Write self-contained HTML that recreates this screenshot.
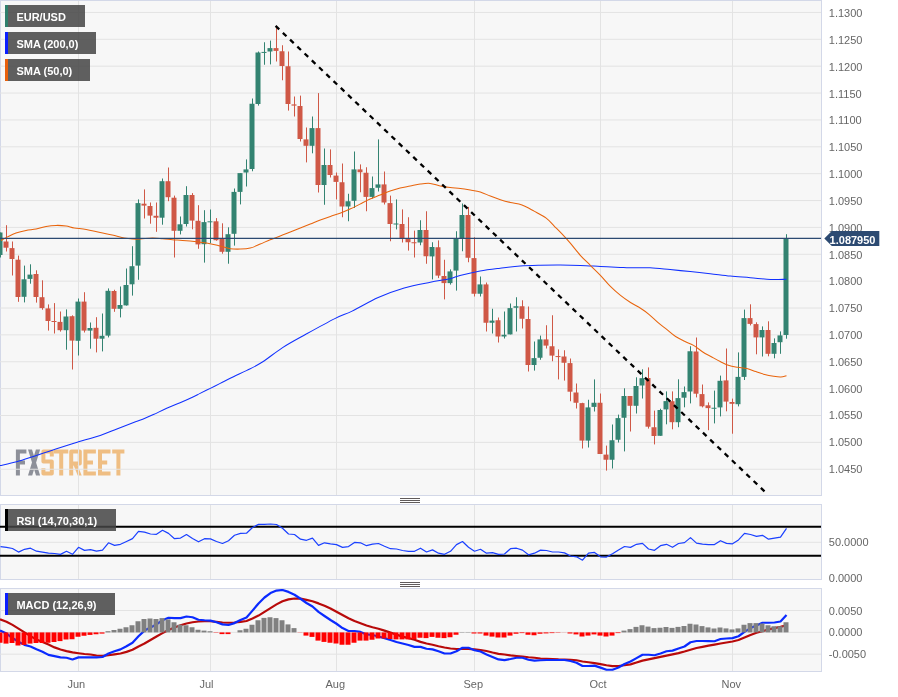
<!DOCTYPE html>
<html><head><meta charset="utf-8"><style>
html,body{margin:0;padding:0;background:#fff;width:898px;height:697px;overflow:hidden}
svg{display:block;will-change:transform}
text{font-family:"Liberation Sans",sans-serif}
</style></head><body>
<svg width="898" height="697" viewBox="0 0 898 697">
<defs>
<clipPath id="cm"><rect x="0" y="1" width="821" height="494"/></clipPath>
<clipPath id="cr"><rect x="0" y="505" width="821" height="74"/></clipPath>
<clipPath id="cd"><rect x="0" y="589" width="821" height="82"/></clipPath>
</defs>
<rect width="898" height="697" fill="#fff"/>

<rect x="0.5" y="0.5" width="821" height="495" fill="#f7f7f7" stroke="#d3d8e8" stroke-width="1"/>
<rect x="0.5" y="504.5" width="821" height="75" fill="#f7f7f7" stroke="#d3d8e8" stroke-width="1"/>
<rect x="0.5" y="588.5" width="821" height="83" fill="#f7f7f7" stroke="#d3d8e8" stroke-width="1"/>
<g clip-path="url(#cm)">
<g fill="none" stroke-width="4" stroke-linejoin="miter">
<path d="M17.9 449.4V475.4M15.9 451.4H26.4M15.9 462.4H25" stroke="#8d9099"/>
<path d="M28 449.4H32L40.1 475.4H36ZM35.9 449.4H40.1L32.2 475.4H28Z" fill="#8d9099" stroke="none"/>
<path d="M51.8 456.5V451.4H43.4V461.4H51.8V473.4H43.4V468.3" stroke="#efbe83" stroke-linejoin="round"/>
<path d="M53.9 451.4H68.3M61.2 449.4V475.4" stroke="#efbe83"/>
<path d="M71.2 475.4V451.4H79.8V463.6H71.2" stroke="#efbe83" stroke-linejoin="round"/>
<path d="M73.5 465H77.5L81.7 475.4H77.7Z" fill="#efbe83" stroke="none"/>
<path d="M95.9 451.4H85.4V473.4H95.9M85.4 462.4H93" stroke="#efbe83"/>
<path d="M110.5 451.4H100V473.4H110.5M100 462.4H107.2" stroke="#efbe83"/>
<path d="M112.2 451.4H124.4M118.4 449.4V475.4" stroke="#efbe83"/>
</g>
<line x1="0" x2="822" y1="12.45" y2="12.45" stroke="#e3e3e3" stroke-width="1"/>
<line x1="0" x2="822" y1="39.32" y2="39.32" stroke="#e3e3e3" stroke-width="1"/>
<line x1="0" x2="822" y1="66.19" y2="66.19" stroke="#e3e3e3" stroke-width="1"/>
<line x1="0" x2="822" y1="93.06" y2="93.06" stroke="#e3e3e3" stroke-width="1"/>
<line x1="0" x2="822" y1="119.93" y2="119.93" stroke="#e3e3e3" stroke-width="1"/>
<line x1="0" x2="822" y1="146.8" y2="146.8" stroke="#e3e3e3" stroke-width="1"/>
<line x1="0" x2="822" y1="173.67" y2="173.67" stroke="#e3e3e3" stroke-width="1"/>
<line x1="0" x2="822" y1="200.54" y2="200.54" stroke="#e3e3e3" stroke-width="1"/>
<line x1="0" x2="822" y1="227.41" y2="227.41" stroke="#e3e3e3" stroke-width="1"/>
<line x1="0" x2="822" y1="254.28" y2="254.28" stroke="#e3e3e3" stroke-width="1"/>
<line x1="0" x2="822" y1="281.15" y2="281.15" stroke="#e3e3e3" stroke-width="1"/>
<line x1="0" x2="822" y1="308.02" y2="308.02" stroke="#e3e3e3" stroke-width="1"/>
<line x1="0" x2="822" y1="334.89" y2="334.89" stroke="#e3e3e3" stroke-width="1"/>
<line x1="0" x2="822" y1="361.76" y2="361.76" stroke="#e3e3e3" stroke-width="1"/>
<line x1="0" x2="822" y1="388.63" y2="388.63" stroke="#e3e3e3" stroke-width="1"/>
<line x1="0" x2="822" y1="415.5" y2="415.5" stroke="#e3e3e3" stroke-width="1"/>
<line x1="0" x2="822" y1="442.37" y2="442.37" stroke="#e3e3e3" stroke-width="1"/>
<line x1="0" x2="822" y1="469.24" y2="469.24" stroke="#e3e3e3" stroke-width="1"/>
<line x1="78.5" x2="78.5" y1="0" y2="496" stroke="#e3e3e3" stroke-width="1"/>
<line x1="210.5" x2="210.5" y1="0" y2="496" stroke="#e3e3e3" stroke-width="1"/>
<line x1="336.5" x2="336.5" y1="0" y2="496" stroke="#e3e3e3" stroke-width="1"/>
<line x1="474.5" x2="474.5" y1="0" y2="496" stroke="#e3e3e3" stroke-width="1"/>
<line x1="600.5" x2="600.5" y1="0" y2="496" stroke="#e3e3e3" stroke-width="1"/>
<line x1="732.5" x2="732.5" y1="0" y2="496" stroke="#e3e3e3" stroke-width="1"/>
<rect x="0.0" y="232.5" width="1" height="25" fill="#338371"/>
<rect x="-2.5" y="232.5" width="5" height="22.5" fill="#338371"/>
<rect x="6.0" y="225.2" width="1" height="26.3" fill="#cf5846"/>
<rect x="3.5" y="241.5" width="5" height="6.2" fill="#cf5846"/>
<rect x="12.0" y="241.5" width="1" height="34" fill="#cf5846"/>
<rect x="9.5" y="248.1" width="5" height="10.9" fill="#cf5846"/>
<rect x="18.0" y="255.6" width="1" height="46.2" fill="#cf5846"/>
<rect x="15.5" y="259.7" width="5" height="37.3" fill="#cf5846"/>
<rect x="24.0" y="265.6" width="1" height="36.8" fill="#338371"/>
<rect x="21.5" y="279.3" width="5" height="17.5" fill="#338371"/>
<rect x="30.0" y="264.3" width="1" height="19.4" fill="#338371"/>
<rect x="27.5" y="274.6" width="5" height="4.3" fill="#338371"/>
<rect x="36.0" y="270.3" width="1" height="32.3" fill="#cf5846"/>
<rect x="33.5" y="274" width="5" height="23" fill="#cf5846"/>
<rect x="42.0" y="280.3" width="1" height="29.45" fill="#cf5846"/>
<rect x="39.5" y="297.2" width="5" height="10.9" fill="#cf5846"/>
<rect x="48.0" y="304.4" width="1" height="26.2" fill="#cf5846"/>
<rect x="45.5" y="308.4" width="5" height="12.6" fill="#cf5846"/>
<rect x="54.0" y="303.1" width="1" height="30.4" fill="#cf5846"/>
<rect x="51.5" y="321" width="5" height="1" fill="#cf5846"/>
<rect x="60.0" y="311.5" width="1" height="20.1" fill="#cf5846"/>
<rect x="57.5" y="321.9" width="5" height="8.3" fill="#cf5846"/>
<rect x="66.0" y="309.4" width="1" height="40.3" fill="#338371"/>
<rect x="63.5" y="316.5" width="5" height="13.7" fill="#338371"/>
<rect x="72.0" y="315.3" width="1" height="54.2" fill="#cf5846"/>
<rect x="69.5" y="316.2" width="5" height="24.4" fill="#cf5846"/>
<rect x="78.0" y="298.5" width="1" height="57" fill="#338371"/>
<rect x="75.5" y="301.6" width="5" height="39.2" fill="#338371"/>
<rect x="84.0" y="292.2" width="1" height="40.3" fill="#cf5846"/>
<rect x="81.5" y="301.6" width="5" height="29" fill="#cf5846"/>
<rect x="90.0" y="322.5" width="1" height="26.2" fill="#338371"/>
<rect x="87.5" y="328" width="5" height="2.6" fill="#338371"/>
<rect x="96.0" y="317.2" width="1" height="35.2" fill="#cf5846"/>
<rect x="93.5" y="327.8" width="5" height="10.9" fill="#cf5846"/>
<rect x="102.0" y="313.5" width="1" height="37.9" fill="#338371"/>
<rect x="99.5" y="335.8" width="5" height="2.9" fill="#338371"/>
<rect x="108.0" y="288.4" width="1" height="49" fill="#338371"/>
<rect x="105.5" y="290.8" width="5" height="44.8" fill="#338371"/>
<rect x="114.0" y="289.75" width="1" height="22.05" fill="#cf5846"/>
<rect x="111.5" y="291" width="5" height="17.8" fill="#cf5846"/>
<rect x="120.0" y="286.5" width="1" height="30.9" fill="#338371"/>
<rect x="117.5" y="305" width="5" height="3.8" fill="#338371"/>
<rect x="126.0" y="268.5" width="1" height="37.1" fill="#338371"/>
<rect x="123.5" y="285" width="5" height="20.4" fill="#338371"/>
<rect x="132.0" y="246.2" width="1" height="49.4" fill="#338371"/>
<rect x="129.5" y="266.2" width="5" height="18.1" fill="#338371"/>
<rect x="138.0" y="199.4" width="1" height="80.35" fill="#338371"/>
<rect x="135.5" y="203.1" width="5" height="62.5" fill="#338371"/>
<rect x="144.0" y="189.4" width="1" height="29.1" fill="#cf5846"/>
<rect x="141.5" y="203.7" width="5" height="1.9" fill="#cf5846"/>
<rect x="150.0" y="202.5" width="1" height="21.2" fill="#cf5846"/>
<rect x="147.5" y="206" width="5" height="9.6" fill="#cf5846"/>
<rect x="156.0" y="202.5" width="1" height="29.3" fill="#cf5846"/>
<rect x="153.5" y="215.8" width="5" height="1.9" fill="#cf5846"/>
<rect x="162.0" y="178.5" width="1" height="46.2" fill="#338371"/>
<rect x="159.5" y="181.2" width="5" height="36.5" fill="#338371"/>
<rect x="168.0" y="167.5" width="1" height="33.7" fill="#cf5846"/>
<rect x="165.5" y="181.2" width="5" height="16" fill="#cf5846"/>
<rect x="174.0" y="195.6" width="1" height="61.9" fill="#cf5846"/>
<rect x="171.5" y="197.7" width="5" height="33.1" fill="#cf5846"/>
<rect x="180.0" y="216.5" width="1" height="17.9" fill="#338371"/>
<rect x="177.5" y="224.3" width="5" height="6.5" fill="#338371"/>
<rect x="186.0" y="186.2" width="1" height="40.3" fill="#338371"/>
<rect x="183.5" y="195" width="5" height="29" fill="#338371"/>
<rect x="192.0" y="193.1" width="1" height="36.2" fill="#cf5846"/>
<rect x="189.5" y="195" width="5" height="25.6" fill="#cf5846"/>
<rect x="198.0" y="205.2" width="1" height="43.55" fill="#cf5846"/>
<rect x="195.5" y="220.8" width="5" height="23.6" fill="#cf5846"/>
<rect x="204.0" y="210.2" width="1" height="52.4" fill="#338371"/>
<rect x="201.5" y="222.1" width="5" height="22.1" fill="#338371"/>
<rect x="210.0" y="209.5" width="1" height="33.7" fill="#338371"/>
<rect x="207.5" y="221.3" width="5" height="1" fill="#338371"/>
<rect x="216.0" y="218.1" width="1" height="22.6" fill="#cf5846"/>
<rect x="213.5" y="221.3" width="5" height="18.9" fill="#cf5846"/>
<rect x="222.0" y="223.3" width="1" height="30.4" fill="#cf5846"/>
<rect x="219.5" y="238.9" width="5" height="12.9" fill="#cf5846"/>
<rect x="228.0" y="227.3" width="1" height="36.4" fill="#338371"/>
<rect x="225.5" y="234.2" width="5" height="17.6" fill="#338371"/>
<rect x="234.0" y="188.5" width="1" height="57.1" fill="#338371"/>
<rect x="231.5" y="191.9" width="5" height="41.9" fill="#338371"/>
<rect x="240.0" y="173" width="1" height="31.4" fill="#338371"/>
<rect x="237.5" y="173.1" width="5" height="18.8" fill="#338371"/>
<rect x="246.0" y="159.4" width="1" height="27.1" fill="#338371"/>
<rect x="243.5" y="169.4" width="5" height="3.1" fill="#338371"/>
<rect x="252.0" y="98.5" width="1" height="72.75" fill="#338371"/>
<rect x="249.5" y="103.75" width="5" height="65.25" fill="#338371"/>
<rect x="258.0" y="51.5" width="1" height="54.1" fill="#338371"/>
<rect x="255.5" y="52.5" width="5" height="51.5" fill="#338371"/>
<rect x="264.0" y="42.25" width="1" height="22.5" fill="#338371"/>
<rect x="261.5" y="51.92" width="5" height="1" fill="#338371"/>
<rect x="270.0" y="40.6" width="1" height="23.8" fill="#338371"/>
<rect x="267.5" y="48.1" width="5" height="3.4" fill="#338371"/>
<rect x="276.0" y="26.9" width="1" height="34.6" fill="#cf5846"/>
<rect x="273.5" y="48.1" width="5" height="2.8" fill="#cf5846"/>
<rect x="282.0" y="45.25" width="1" height="35" fill="#cf5846"/>
<rect x="279.5" y="51.25" width="5" height="14.75" fill="#cf5846"/>
<rect x="288.0" y="51.5" width="1" height="59.1" fill="#cf5846"/>
<rect x="285.5" y="66.25" width="5" height="37.75" fill="#cf5846"/>
<rect x="294.0" y="96.5" width="1" height="20" fill="#cf5846"/>
<rect x="291.5" y="104.4" width="5" height="1.2" fill="#cf5846"/>
<rect x="300.0" y="95.6" width="1" height="45.9" fill="#cf5846"/>
<rect x="297.5" y="106" width="5" height="33" fill="#cf5846"/>
<rect x="306.0" y="127.5" width="1" height="34.9" fill="#cf5846"/>
<rect x="303.5" y="139.4" width="5" height="6.4" fill="#cf5846"/>
<rect x="312.0" y="116.5" width="1" height="36.8" fill="#338371"/>
<rect x="309.5" y="128.1" width="5" height="17.7" fill="#338371"/>
<rect x="318.0" y="93.1" width="1" height="99.4" fill="#cf5846"/>
<rect x="315.5" y="128.1" width="5" height="56.9" fill="#cf5846"/>
<rect x="324.0" y="148.5" width="1" height="56.25" fill="#338371"/>
<rect x="321.5" y="165" width="5" height="20" fill="#338371"/>
<rect x="330.0" y="149.4" width="1" height="28.1" fill="#cf5846"/>
<rect x="327.5" y="165" width="5" height="10" fill="#cf5846"/>
<rect x="336.0" y="172.5" width="1" height="26.9" fill="#cf5846"/>
<rect x="333.5" y="175.6" width="5" height="6.3" fill="#cf5846"/>
<rect x="342.0" y="163.5" width="1" height="53.75" fill="#cf5846"/>
<rect x="339.5" y="182.25" width="5" height="24.25" fill="#cf5846"/>
<rect x="348.0" y="193.75" width="1" height="27.5" fill="#338371"/>
<rect x="345.5" y="201.25" width="5" height="5.25" fill="#338371"/>
<rect x="354.0" y="151.5" width="1" height="56.5" fill="#338371"/>
<rect x="351.5" y="169.4" width="5" height="31.4" fill="#338371"/>
<rect x="360.0" y="164.4" width="1" height="27.85" fill="#cf5846"/>
<rect x="357.5" y="169.4" width="5" height="2.85" fill="#cf5846"/>
<rect x="366.0" y="167.25" width="1" height="44" fill="#cf5846"/>
<rect x="363.5" y="172.75" width="5" height="24.15" fill="#cf5846"/>
<rect x="372.0" y="176.5" width="1" height="22" fill="#338371"/>
<rect x="369.5" y="188.1" width="5" height="8.8" fill="#338371"/>
<rect x="378.0" y="139.4" width="1" height="52.1" fill="#338371"/>
<rect x="375.5" y="184.4" width="5" height="3.35" fill="#338371"/>
<rect x="384.0" y="171.5" width="1" height="33" fill="#cf5846"/>
<rect x="381.5" y="184.4" width="5" height="18.1" fill="#cf5846"/>
<rect x="390.0" y="195.6" width="1" height="45.65" fill="#cf5846"/>
<rect x="387.5" y="203.1" width="5" height="20.9" fill="#cf5846"/>
<rect x="396.0" y="199.4" width="1" height="30" fill="#338371"/>
<rect x="393.5" y="223.5" width="5" height="1" fill="#338371"/>
<rect x="402.0" y="209.4" width="1" height="33.1" fill="#cf5846"/>
<rect x="399.5" y="224" width="5" height="14.1" fill="#cf5846"/>
<rect x="408.0" y="217.25" width="1" height="33.35" fill="#cf5846"/>
<rect x="405.5" y="238.5" width="5" height="3.75" fill="#cf5846"/>
<rect x="414.0" y="230.6" width="1" height="26.9" fill="#cf5846"/>
<rect x="411.5" y="242.25" width="5" height="1" fill="#cf5846"/>
<rect x="420.0" y="220.25" width="1" height="25" fill="#338371"/>
<rect x="417.5" y="230" width="5" height="12.5" fill="#338371"/>
<rect x="426.0" y="211.25" width="1" height="52.5" fill="#cf5846"/>
<rect x="423.5" y="230" width="5" height="26.25" fill="#cf5846"/>
<rect x="432.0" y="242.25" width="1" height="37.15" fill="#338371"/>
<rect x="429.5" y="247" width="5" height="9.4" fill="#338371"/>
<rect x="438.0" y="240.4" width="1" height="37.7" fill="#cf5846"/>
<rect x="435.5" y="247.25" width="5" height="28.35" fill="#cf5846"/>
<rect x="444.0" y="259.75" width="1" height="39.65" fill="#cf5846"/>
<rect x="441.5" y="276" width="5" height="7.1" fill="#cf5846"/>
<rect x="450.0" y="269.4" width="1" height="15.2" fill="#338371"/>
<rect x="447.5" y="271.4" width="5" height="11.7" fill="#338371"/>
<rect x="456.0" y="231.25" width="1" height="59.35" fill="#338371"/>
<rect x="453.5" y="238.75" width="5" height="31.85" fill="#338371"/>
<rect x="462.0" y="203.5" width="1" height="47.75" fill="#338371"/>
<rect x="459.5" y="215" width="5" height="23.1" fill="#338371"/>
<rect x="468.0" y="206.9" width="1" height="55.35" fill="#cf5846"/>
<rect x="465.5" y="215" width="5" height="42.75" fill="#cf5846"/>
<rect x="474.0" y="237.25" width="1" height="59.25" fill="#cf5846"/>
<rect x="471.5" y="258.1" width="5" height="35.65" fill="#cf5846"/>
<rect x="480.0" y="276.5" width="1" height="20" fill="#338371"/>
<rect x="477.5" y="284.4" width="5" height="9.35" fill="#338371"/>
<rect x="486.0" y="282.5" width="1" height="49" fill="#cf5846"/>
<rect x="483.5" y="284.4" width="5" height="38.35" fill="#cf5846"/>
<rect x="492.0" y="308.75" width="1" height="24.75" fill="#338371"/>
<rect x="489.5" y="320.6" width="5" height="2.15" fill="#338371"/>
<rect x="498.0" y="317.5" width="1" height="25" fill="#cf5846"/>
<rect x="495.5" y="320.25" width="5" height="16.25" fill="#cf5846"/>
<rect x="504.0" y="311.5" width="1" height="27" fill="#338371"/>
<rect x="501.5" y="334.75" width="5" height="1.75" fill="#338371"/>
<rect x="510.0" y="303.5" width="1" height="30.9" fill="#338371"/>
<rect x="507.5" y="308.1" width="5" height="26.3" fill="#338371"/>
<rect x="516.0" y="297.25" width="1" height="34.25" fill="#338371"/>
<rect x="513.5" y="306.25" width="5" height="1.5" fill="#338371"/>
<rect x="522.0" y="300.25" width="1" height="28.25" fill="#cf5846"/>
<rect x="519.5" y="306.25" width="5" height="12.5" fill="#cf5846"/>
<rect x="528.0" y="306.5" width="1" height="65" fill="#cf5846"/>
<rect x="525.5" y="319" width="5" height="46" fill="#cf5846"/>
<rect x="534.0" y="341.5" width="1" height="29.1" fill="#338371"/>
<rect x="531.5" y="358.1" width="5" height="6.9" fill="#338371"/>
<rect x="540.0" y="335.6" width="1" height="24.15" fill="#338371"/>
<rect x="537.5" y="339.4" width="5" height="18.35" fill="#338371"/>
<rect x="546.0" y="325.25" width="1" height="23.25" fill="#cf5846"/>
<rect x="543.5" y="339.4" width="5" height="6.2" fill="#cf5846"/>
<rect x="552.0" y="315.25" width="1" height="46" fill="#cf5846"/>
<rect x="549.5" y="346.25" width="5" height="9.35" fill="#cf5846"/>
<rect x="558.0" y="349.4" width="1" height="30" fill="#cf5846"/>
<rect x="555.5" y="356.07" width="5" height="1" fill="#cf5846"/>
<rect x="564.0" y="350.25" width="1" height="30.35" fill="#cf5846"/>
<rect x="561.5" y="356.5" width="5" height="6.25" fill="#cf5846"/>
<rect x="570.0" y="358.5" width="1" height="42.75" fill="#cf5846"/>
<rect x="567.5" y="363.1" width="5" height="28.6" fill="#cf5846"/>
<rect x="576.0" y="383.5" width="1" height="25" fill="#cf5846"/>
<rect x="573.5" y="392.5" width="5" height="10.25" fill="#cf5846"/>
<rect x="582.0" y="402.75" width="1" height="45.75" fill="#cf5846"/>
<rect x="579.5" y="403.1" width="5" height="37.5" fill="#cf5846"/>
<rect x="588.0" y="399.75" width="1" height="47.75" fill="#338371"/>
<rect x="585.5" y="407.4" width="5" height="33.2" fill="#338371"/>
<rect x="594.0" y="379.4" width="1" height="32.1" fill="#338371"/>
<rect x="591.5" y="402.75" width="5" height="4.15" fill="#338371"/>
<rect x="600.0" y="393.5" width="1" height="60.5" fill="#cf5846"/>
<rect x="597.5" y="402.75" width="5" height="51.25" fill="#cf5846"/>
<rect x="606.0" y="445.6" width="1" height="25" fill="#cf5846"/>
<rect x="603.5" y="454.6" width="5" height="5.15" fill="#cf5846"/>
<rect x="612.0" y="424.5" width="1" height="44" fill="#338371"/>
<rect x="609.5" y="440.25" width="5" height="19.5" fill="#338371"/>
<rect x="618.0" y="414.6" width="1" height="27.9" fill="#338371"/>
<rect x="615.5" y="418.1" width="5" height="21.65" fill="#338371"/>
<rect x="624.0" y="388.3" width="1" height="63.1" fill="#338371"/>
<rect x="621.5" y="396" width="5" height="21.75" fill="#338371"/>
<rect x="630.0" y="396" width="1" height="35.5" fill="#cf5846"/>
<rect x="627.5" y="396" width="5" height="9.8" fill="#cf5846"/>
<rect x="636.0" y="377.3" width="1" height="36.2" fill="#338371"/>
<rect x="633.5" y="386" width="5" height="19.8" fill="#338371"/>
<rect x="642.0" y="369.3" width="1" height="29.2" fill="#338371"/>
<rect x="639.5" y="378.2" width="5" height="7.3" fill="#338371"/>
<rect x="648.0" y="367.4" width="1" height="61.2" fill="#cf5846"/>
<rect x="645.5" y="378" width="5" height="48.7" fill="#cf5846"/>
<rect x="654.0" y="410.6" width="1" height="33.8" fill="#cf5846"/>
<rect x="651.5" y="427.25" width="5" height="8.75" fill="#cf5846"/>
<rect x="660.0" y="408.75" width="1" height="27.05" fill="#338371"/>
<rect x="657.5" y="410" width="5" height="25.8" fill="#338371"/>
<rect x="666.0" y="391.4" width="1" height="32.9" fill="#338371"/>
<rect x="663.5" y="401.1" width="5" height="8.3" fill="#338371"/>
<rect x="672.0" y="391.4" width="1" height="37.9" fill="#cf5846"/>
<rect x="669.5" y="401.2" width="5" height="21" fill="#cf5846"/>
<rect x="678.0" y="379.3" width="1" height="47.9" fill="#338371"/>
<rect x="675.5" y="398.1" width="5" height="24.1" fill="#338371"/>
<rect x="684.0" y="386.5" width="1" height="20.8" fill="#338371"/>
<rect x="681.5" y="392.1" width="5" height="5.6" fill="#338371"/>
<rect x="690.0" y="346.25" width="1" height="57.15" fill="#338371"/>
<rect x="687.5" y="351.25" width="5" height="40.25" fill="#338371"/>
<rect x="696.0" y="337.5" width="1" height="59.9" fill="#cf5846"/>
<rect x="693.5" y="351.5" width="5" height="42.2" fill="#cf5846"/>
<rect x="702.0" y="384.5" width="1" height="22.9" fill="#cf5846"/>
<rect x="699.5" y="394.1" width="5" height="12.2" fill="#cf5846"/>
<rect x="708.0" y="402.4" width="1" height="27.8" fill="#cf5846"/>
<rect x="705.5" y="405.3" width="5" height="2.8" fill="#cf5846"/>
<rect x="714.0" y="390.6" width="1" height="32.8" fill="#338371"/>
<rect x="711.5" y="407.75" width="5" height="1" fill="#338371"/>
<rect x="720.0" y="375.6" width="1" height="40.8" fill="#338371"/>
<rect x="717.5" y="380.8" width="5" height="26.6" fill="#338371"/>
<rect x="726.0" y="348.5" width="1" height="62.8" fill="#cf5846"/>
<rect x="723.5" y="380.4" width="5" height="21.2" fill="#cf5846"/>
<rect x="732.0" y="398.6" width="1" height="35.1" fill="#cf5846"/>
<rect x="729.5" y="402" width="5" height="1.8" fill="#cf5846"/>
<rect x="738.0" y="352.4" width="1" height="54" fill="#338371"/>
<rect x="735.5" y="376.9" width="5" height="27.3" fill="#338371"/>
<rect x="744.0" y="309.6" width="1" height="70.4" fill="#338371"/>
<rect x="741.5" y="318.1" width="5" height="58.8" fill="#338371"/>
<rect x="750.0" y="304.3" width="1" height="21.1" fill="#cf5846"/>
<rect x="747.5" y="318.1" width="5" height="5.8" fill="#cf5846"/>
<rect x="756.0" y="322.3" width="1" height="32" fill="#cf5846"/>
<rect x="753.5" y="324.1" width="5" height="13.3" fill="#cf5846"/>
<rect x="762.0" y="326.4" width="1" height="30.1" fill="#338371"/>
<rect x="759.5" y="330" width="5" height="7.4" fill="#338371"/>
<rect x="768.0" y="321.3" width="1" height="35" fill="#cf5846"/>
<rect x="765.5" y="330" width="5" height="23.8" fill="#cf5846"/>
<rect x="774.0" y="338.4" width="1" height="19.9" fill="#338371"/>
<rect x="771.5" y="343" width="5" height="10.8" fill="#338371"/>
<rect x="780.0" y="331.4" width="1" height="22.4" fill="#338371"/>
<rect x="777.5" y="335.4" width="5" height="6.8" fill="#338371"/>
<rect x="786.0" y="234.2" width="1" height="104.5" fill="#338371"/>
<rect x="783.5" y="238.5" width="5" height="96.5" fill="#338371"/>
<path d="M0 465.6C2.78 464.97 11.13 463.32 16.7 461.8C22.27 460.28 27.83 458.32 33.4 456.5C38.97 454.68 44.53 452.75 50.1 450.9C55.67 449.05 62.07 446.92 66.8 445.4C71.53 443.88 72.93 443.47 78.5 441.8C84.07 440.13 93.8 437.55 100.2 435.4C106.6 433.25 111.33 431.03 116.9 428.9C122.47 426.77 129.3 424.22 133.6 422.6C137.9 420.98 139.4 420.53 142.7 419.2C146 417.87 149.4 416.42 153.4 414.6C157.4 412.78 162.25 410.27 166.7 408.3C171.15 406.33 175.63 404.73 180.1 402.8C184.57 400.88 190.17 398.32 193.5 396.75C196.83 395.18 197.22 394.84 200.1 393.4C202.98 391.96 207.45 389.77 210.8 388.1C214.15 386.43 216.42 385.3 220.2 383.4C223.98 381.5 229.05 378.87 233.5 376.7C237.95 374.53 242.08 372.85 246.9 370.4C251.72 367.95 256.45 365.8 262.4 362C268.35 358.2 275.37 352.22 282.6 347.6C289.83 342.98 297.1 339.13 305.8 334.3C314.5 329.47 327.08 322.47 334.8 318.6C342.52 314.73 344.87 314.62 352.1 311.1C359.33 307.58 369.52 301.35 378.2 297.5C386.88 293.65 395.52 290.55 404.2 288C412.88 285.45 422.67 283.75 430.3 282.2C437.93 280.65 445.05 279.82 450 278.7C454.95 277.58 454.98 276.78 460 275.5C465.02 274.22 473.42 272.22 480.1 271C486.78 269.78 493.42 269.03 500.1 268.2C506.78 267.37 513.52 266.5 520.2 266C526.88 265.5 533.52 265.37 540.2 265.2C546.88 265.03 553.62 264.97 560.3 265C566.98 265.03 573.62 265.17 580.3 265.4C586.98 265.63 593.78 266.07 600.4 266.4C607.02 266.73 615.07 267.17 620 267.4C624.93 267.63 624.98 267.73 630 267.8C635.02 267.87 643.42 267.5 650.1 267.8C656.78 268.1 663.42 268.97 670.1 269.6C676.78 270.23 683.52 270.92 690.2 271.6C696.88 272.28 703.52 272.95 710.2 273.7C716.88 274.45 723.62 275.43 730.3 276.1C736.98 276.77 743.62 277.13 750.3 277.7C756.98 278.27 764.37 279.23 770.4 279.5C776.43 279.77 783.82 279.33 786.5 279.3" fill="none" stroke="#1030ff" stroke-width="1.05" stroke-linejoin="round"/>
<path d="M1 240.5C2.17 239.85 5.5 237.85 8 236.6C10.5 235.35 13 234.03 16 233C19 231.97 22.65 231.07 26 230.4C29.35 229.73 32.75 229.67 36.1 229C39.45 228.33 42.77 227 46.1 226.4C49.43 225.8 52.77 225.47 56.1 225.4C59.43 225.33 63.08 225.57 66.1 226C69.12 226.43 70.85 227.43 74.2 228C77.55 228.57 81.87 228.63 86.2 229.4C90.53 230.17 95.87 231.67 100.2 232.6C104.53 233.53 108.18 234.1 112.2 235C116.22 235.9 120.95 237.33 124.3 238C127.65 238.67 129.63 238.83 132.3 239C134.97 239.17 136.97 239.17 140.3 239C143.63 238.83 148.62 238.05 152.3 238C155.98 237.95 159.05 238.42 162.4 238.7C165.75 238.98 169.47 239.43 172.4 239.7C175.33 239.97 177.07 240.07 180 240.3C182.93 240.53 184.98 240.53 190 241.1C195.02 241.67 205.08 242.87 210.1 243.7C215.12 244.53 216.77 245.27 220.1 246.1C223.43 246.93 226.75 248.2 230.1 248.7C233.45 249.2 236.85 249.2 240.2 249.1C243.55 249 246.87 248.93 250.2 248.1C253.53 247.27 256.87 245.5 260.2 244.1C263.53 242.7 266.87 241.03 270.2 239.7C273.53 238.37 276.85 237.37 280.2 236.1C283.55 234.83 286.95 233.43 290.3 232.1C293.65 230.77 296.97 229.43 300.3 228.1C303.63 226.77 306.97 225.45 310.3 224.1C313.63 222.75 316.95 221.28 320.3 220C323.65 218.72 327.12 217.52 330.4 216.4C333.68 215.28 336.73 214.52 340 213.3C343.27 212.08 346.67 210.63 350 209.1C353.33 207.57 356.65 205.77 360 204.1C363.35 202.43 366.75 200.6 370.1 199.1C373.45 197.6 376.77 196.45 380.1 195.1C383.43 193.75 386.77 192.18 390.1 191C393.43 189.82 396.75 188.83 400.1 188C403.45 187.17 406.85 186.67 410.2 186C413.55 185.33 416.87 184.43 420.2 184C423.53 183.57 426.87 183.07 430.2 183.4C433.53 183.73 436.87 185.3 440.2 186C443.53 186.7 446.85 187.2 450.2 187.6C453.55 188 456.95 188 460.3 188.4C463.65 188.8 466.97 189.4 470.3 190C473.63 190.6 476.97 190.98 480.3 192C483.63 193.02 486.95 194.82 490.3 196.1C493.65 197.38 497.05 198.63 500.4 199.7C503.75 200.77 506.8 201.62 510.4 202.5C514 203.38 518.05 203.57 522 205C525.95 206.43 530.07 208.92 534.1 211.1C538.13 213.28 542.85 215.6 546.2 218.1C549.55 220.6 551.53 223.42 554.2 226.1C556.87 228.78 559.52 231.35 562.2 234.2C564.88 237.05 567.28 239.68 570.3 243.2C573.32 246.72 576.97 251.62 580.3 255.3C583.63 258.98 586.95 261.97 590.3 265.3C593.65 268.63 597.05 271.78 600.4 275.3C603.75 278.82 607.05 283.05 610.4 286.4C613.75 289.75 617.15 292.72 620.5 295.4C623.85 298.08 627.17 300.35 630.5 302.5C633.83 304.65 637.43 306.33 640.5 308.3C643.57 310.27 646.02 311.97 648.9 314.3C651.78 316.63 654.83 319.78 657.8 322.3C660.77 324.82 663.73 327.03 666.7 329.4C669.67 331.77 672.63 334.52 675.6 336.5C678.57 338.48 681.52 339.82 684.5 341.3C687.48 342.78 690.52 343.67 693.5 345.4C696.48 347.13 699.43 349.82 702.4 351.7C705.37 353.58 708.33 355.07 711.3 356.7C714.27 358.33 717.23 360.02 720.2 361.5C723.17 362.98 726.13 364.63 729.1 365.6C732.07 366.57 735.03 366.8 738 367.3C740.97 367.8 743.93 367.88 746.9 368.6C749.87 369.32 752.83 370.62 755.8 371.6C758.77 372.58 761.73 373.72 764.7 374.5C767.67 375.28 770.92 375.88 773.6 376.3C776.28 376.72 778.65 377.1 780.8 377C782.95 376.9 785.55 375.92 786.5 375.7" fill="none" stroke="#e8640c" stroke-width="1.05" stroke-linejoin="round"/>
<line x1="0" x2="822" y1="238.4" y2="238.4" stroke="#2c4a72" stroke-width="1.2"/>
<line x1="275.6" y1="25.9" x2="764.8" y2="491.6" stroke="#000" stroke-width="2.3" stroke-dasharray="5 5"/>
</g>
<g clip-path="url(#cr)">
<line x1="0" x2="822" y1="542.3" y2="542.3" stroke="#e3e3e3"/>
<line x1="78.5" x2="78.5" y1="504" y2="580" stroke="#e3e3e3"/>
<line x1="210.5" x2="210.5" y1="504" y2="580" stroke="#e3e3e3"/>
<line x1="336.5" x2="336.5" y1="504" y2="580" stroke="#e3e3e3"/>
<line x1="474.5" x2="474.5" y1="504" y2="580" stroke="#e3e3e3"/>
<line x1="600.5" x2="600.5" y1="504" y2="580" stroke="#e3e3e3"/>
<line x1="732.5" x2="732.5" y1="504" y2="580" stroke="#e3e3e3"/>
<line x1="0" x2="822" y1="526.8" y2="526.8" stroke="#000" stroke-width="2"/>
<line x1="0" x2="822" y1="555.7" y2="555.7" stroke="#000" stroke-width="2"/>
<polyline points="0.5,546.6 6.5,547.3 12.5,548.5 18.5,552.1 24.5,549.3 30.5,548.2 36.5,551.2 42.5,552.1 48.5,553.2 54.5,553.5 60.5,554.4 66.5,551.3 72.5,554.3 78.5,547.3 84.5,550.4 90.5,549.6 96.5,551.2 102.5,550.2 108.5,542.8 114.5,545.4 120.5,544.3 126.5,541.5 132.5,538.6 138.5,531.4 144.5,532.1 150.5,534 156.5,534.3 162.5,530.3 168.5,533.4 174.5,538.7 180.5,538.1 186.5,534.5 192.5,538.4 198.5,541.8 204.5,538.7 210.5,538.9 216.5,541.5 222.5,543.5 228.5,540.7 234.5,535.3 240.5,533.4 246.5,533.2 252.5,527.5 258.5,524.4 264.5,524.3 270.5,524 276.5,524.5 282.5,528.3 288.5,534 294.5,534.5 300.5,539.2 306.5,540.3 312.5,538.1 318.5,545.4 324.5,542.8 330.5,543.8 336.5,544.6 342.5,547.4 348.5,546.6 354.5,542.4 360.5,542.8 366.5,545.7 372.5,544.2 378.5,543.5 384.5,546.2 390.5,548.7 396.5,549 402.5,550.5 408.5,551.3 414.5,551.3 420.5,548.2 426.5,552 432.5,549.9 438.5,553.2 444.5,554.3 450.5,551.3 456.5,544.6 462.5,541.5 468.5,547.3 474.5,551.2 480.5,549.3 486.5,553.2 492.5,552.7 498.5,554.3 504.5,554 510.5,548.7 516.5,548.2 522.5,550.1 528.5,554.8 534.5,553.2 540.5,550.1 546.5,550.5 552.5,552 558.5,552 564.5,552.9 570.5,556 576.5,556.8 582.5,560.2 588.5,553.2 594.5,552.4 600.5,556.8 606.5,557.1 612.5,553.7 618.5,550.1 624.5,546.5 630.5,547.4 636.5,544.3 642.5,543.4 648.5,549 654.5,550.3 660.5,545.7 666.5,544.3 672.5,547.3 678.5,543.5 684.5,542.6 690.5,537.6 696.5,543.1 702.5,544.2 708.5,544.6 714.5,544.6 720.5,540.7 726.5,543.4 732.5,543.8 738.5,539.9 744.5,533.4 750.5,534.5 756.5,536.4 762.5,535.3 768.5,539.2 774.5,538.1 780.5,537.1 786.5,528.3" fill="none" stroke="#1a40ff" stroke-width="1.2" stroke-linejoin="round"/>
</g>
<g clip-path="url(#cd)">
<line x1="0" x2="822" y1="610.5" y2="610.5" stroke="#e3e3e3"/>
<line x1="0" x2="822" y1="632.4" y2="632.4" stroke="#e3e3e3"/>
<line x1="0" x2="822" y1="654.2" y2="654.2" stroke="#e3e3e3"/>
<line x1="78.5" x2="78.5" y1="588" y2="672" stroke="#e3e3e3"/>
<line x1="210.5" x2="210.5" y1="588" y2="672" stroke="#e3e3e3"/>
<line x1="336.5" x2="336.5" y1="588" y2="672" stroke="#e3e3e3"/>
<line x1="474.5" x2="474.5" y1="588" y2="672" stroke="#e3e3e3"/>
<line x1="600.5" x2="600.5" y1="588" y2="672" stroke="#e3e3e3"/>
<line x1="732.5" x2="732.5" y1="588" y2="672" stroke="#e3e3e3"/>
<polyline points="0,619.25 6.5,621.75 12.5,624.9 18.5,628.6 24.5,632.4 30.5,636.1 36.5,639.5 42.5,642 48.5,644.5 54.5,647.4 60.5,649.5 66.5,651.1 72.5,652.4 78.5,653.25 84.5,654 90.5,654.5 96.5,655.5 102.5,655.8 108.5,655.25 114.5,654.4 120.5,653.5 126.5,651.9 132.5,649.75 138.5,646.5 144.5,643.5 150.5,640 156.5,636.5 162.5,633.1 168.5,630 174.5,627.5 180.5,625.25 186.5,623.5 192.5,622.25 198.5,621.5 204.5,621.25 210.5,621.25 216.5,621.9 222.5,622.5 228.5,622.75 234.5,622.5 240.5,621.9 246.5,621 252.5,618.5 258.5,615.6 264.5,611.9 270.5,608.1 276.5,604.4 282.5,601.25 288.5,599.4 294.5,598.5 300.5,598.6 306.5,599.9 312.5,601.25 318.5,603.4 324.5,605.8 330.5,608.5 336.5,611.8 342.5,615 348.5,618.2 354.5,621 360.5,623.2 366.5,625.5 372.5,627.3 378.5,628.8 384.5,630.6 390.5,632.6 396.5,634.6 402.5,636.6 408.5,638.1 414.5,639.75 420.5,641.9 426.5,643.5 432.5,644.75 438.5,646.25 444.5,647.5 450.5,648.5 456.5,649 462.5,649 468.5,649 474.5,649.4 480.5,650 486.5,651 492.5,652.5 498.5,653.8 504.5,654.5 510.5,655.4 516.5,656 522.5,656.5 528.5,657.25 534.5,657.75 540.5,658.5 546.5,658.75 552.5,659 558.5,659.4 564.5,659.5 570.5,659.75 576.5,660.25 582.5,661.5 588.5,662.25 594.5,663.1 600.5,664.2 606.5,665.25 612.5,666.1 618.5,666 624.5,665.25 630.5,664.4 636.5,662.5 642.5,660.6 648.5,659.4 654.5,658.1 660.5,656.9 666.5,655.6 672.5,654.4 678.5,653.1 684.5,651.5 690.5,649.7 696.5,648 702.5,646.8 708.5,645.7 714.5,644.6 720.5,643.5 726.5,642.5 732.5,641.5 738.5,640 744.5,637.5 750.5,635 756.5,632.75 762.5,631.25 768.5,629.4 774.5,628.1 780.5,626.9 786.5,625.25" fill="none" stroke="#b80a0a" stroke-width="2.2" stroke-linejoin="round"/>
<polyline points="0,630.5 6.5,633.6 12.5,638 18.5,641.75 24.5,644.9 30.5,646.5 36.5,649.25 42.5,651.75 48.5,654.9 54.5,656.1 60.5,657.4 66.5,657.75 72.5,659.5 78.5,657.4 84.5,657.4 90.5,657.4 96.5,657.4 102.5,657 108.5,653.5 114.5,651.25 120.5,649.4 126.5,646.25 132.5,642.75 138.5,636.25 144.5,630.6 150.5,627.5 156.5,624.4 162.5,620.25 168.5,617.75 174.5,618.1 180.5,618.1 186.5,616.5 192.5,617.25 198.5,619.75 204.5,620.25 210.5,620.6 216.5,622.25 222.5,624.4 228.5,625 234.5,623.1 240.5,620 246.5,617.5 252.5,610.6 258.5,603.5 264.5,597.5 270.5,593.1 276.5,590.6 282.5,590 288.5,591.9 294.5,594.75 300.5,598.75 306.5,603 312.5,606.5 318.5,611.9 324.5,616 330.5,620 336.5,623.75 342.5,628.1 348.5,631 354.5,631 360.5,631.9 366.5,634.4 372.5,635 378.5,636.5 384.5,638.1 390.5,640 396.5,642 402.5,643.5 408.5,645 414.5,646.9 420.5,646.9 426.5,648.75 432.5,649.4 438.5,651.25 444.5,653.5 450.5,653.5 456.5,651.25 462.5,647.75 468.5,647.75 474.5,650.25 480.5,651.5 486.5,654.4 492.5,656.9 498.5,659.4 504.5,660.1 510.5,659 516.5,657.75 522.5,657.75 528.5,659.75 534.5,660.6 540.5,660.25 546.5,660 552.5,660 558.5,660 564.5,660 570.5,661 576.5,662.75 582.5,666 588.5,666 594.5,665.6 600.5,667.6 606.5,669.75 612.5,669.75 618.5,667.5 624.5,664 630.5,661.5 636.5,658.1 642.5,654.75 648.5,654.75 654.5,655.25 660.5,653.5 666.5,651.25 672.5,650.6 678.5,648.5 684.5,646.5 690.5,642.25 696.5,641 702.5,641 708.5,641.1 714.5,641.25 720.5,639 726.5,638.5 732.5,638.1 738.5,636.25 744.5,631.9 750.5,628.1 756.5,625.6 762.5,622.75 768.5,622.75 774.5,622.5 780.5,621.5 786.5,615" fill="none" stroke="#0a2aff" stroke-width="2.2" stroke-linejoin="round"/>
<rect x="-2.5" y="632.4" width="5" height="10.35" fill="#ff0000"/>
<rect x="3.5" y="632.4" width="5" height="11.2" fill="#ff0000"/>
<rect x="9.5" y="632.4" width="5" height="10.6" fill="#ff0000"/>
<rect x="15.5" y="632.4" width="5" height="13.1" fill="#ff0000"/>
<rect x="21.5" y="632.4" width="5" height="12.5" fill="#ff0000"/>
<rect x="27.5" y="632.4" width="5" height="11.2" fill="#ff0000"/>
<rect x="33.5" y="632.4" width="5" height="10.6" fill="#ff0000"/>
<rect x="39.5" y="632.4" width="5" height="10.6" fill="#ff0000"/>
<rect x="45.5" y="632.4" width="5" height="10.35" fill="#ff0000"/>
<rect x="51.5" y="632.4" width="5" height="9.6" fill="#ff0000"/>
<rect x="57.5" y="632.4" width="5" height="8.7" fill="#ff0000"/>
<rect x="63.5" y="632.4" width="5" height="7.1" fill="#ff0000"/>
<rect x="69.5" y="632.4" width="5" height="6.85" fill="#ff0000"/>
<rect x="75.5" y="632.4" width="5" height="4.35" fill="#ff0000"/>
<rect x="81.5" y="632.4" width="5" height="3.35" fill="#ff0000"/>
<rect x="87.5" y="632.4" width="5" height="2.5" fill="#ff0000"/>
<rect x="93.5" y="632.4" width="5" height="1.85" fill="#ff0000"/>
<rect x="99.5" y="632.4" width="5" height="1.2" fill="#ff0000"/>
<rect x="105.5" y="631.2" width="5" height="1.2" fill="#808080"/>
<rect x="111.5" y="630" width="5" height="2.4" fill="#808080"/>
<rect x="117.5" y="628.75" width="5" height="3.65" fill="#808080"/>
<rect x="123.5" y="627.25" width="5" height="5.15" fill="#808080"/>
<rect x="129.5" y="625.25" width="5" height="7.15" fill="#808080"/>
<rect x="135.5" y="621.25" width="5" height="11.15" fill="#808080"/>
<rect x="141.5" y="619" width="5" height="13.4" fill="#808080"/>
<rect x="147.5" y="618.5" width="5" height="13.9" fill="#808080"/>
<rect x="153.5" y="619" width="5" height="13.4" fill="#808080"/>
<rect x="159.5" y="618.1" width="5" height="14.3" fill="#808080"/>
<rect x="165.5" y="619.4" width="5" height="13" fill="#808080"/>
<rect x="171.5" y="622.25" width="5" height="10.15" fill="#808080"/>
<rect x="177.5" y="624.75" width="5" height="7.65" fill="#808080"/>
<rect x="183.5" y="625.25" width="5" height="7.15" fill="#808080"/>
<rect x="189.5" y="627.25" width="5" height="5.15" fill="#808080"/>
<rect x="195.5" y="629.75" width="5" height="2.65" fill="#808080"/>
<rect x="201.5" y="630.6" width="5" height="1.8" fill="#808080"/>
<rect x="207.5" y="631.25" width="5" height="1.15" fill="#808080"/>
<rect x="213.5" y="632.4" width="5" height="0.35" fill="#ff0000"/>
<rect x="219.5" y="632.4" width="5" height="1.7" fill="#ff0000"/>
<rect x="225.5" y="632.4" width="5" height="1.7" fill="#ff0000"/>
<rect x="237.5" y="630.25" width="5" height="2.15" fill="#808080"/>
<rect x="243.5" y="628.75" width="5" height="3.65" fill="#808080"/>
<rect x="249.5" y="624.75" width="5" height="7.65" fill="#808080"/>
<rect x="255.5" y="620.25" width="5" height="12.15" fill="#808080"/>
<rect x="261.5" y="617.9" width="5" height="14.5" fill="#808080"/>
<rect x="267.5" y="617.25" width="5" height="15.15" fill="#808080"/>
<rect x="273.5" y="618.1" width="5" height="14.3" fill="#808080"/>
<rect x="279.5" y="620.25" width="5" height="12.15" fill="#808080"/>
<rect x="285.5" y="624.4" width="5" height="8" fill="#808080"/>
<rect x="291.5" y="628.1" width="5" height="4.3" fill="#808080"/>
<rect x="297.5" y="632.4" width="5" height="0.2" fill="#ff0000"/>
<rect x="303.5" y="632.4" width="5" height="3.2" fill="#ff0000"/>
<rect x="309.5" y="632.4" width="5" height="4.5" fill="#ff0000"/>
<rect x="315.5" y="632.4" width="5" height="8.2" fill="#ff0000"/>
<rect x="321.5" y="632.4" width="5" height="9.5" fill="#ff0000"/>
<rect x="327.5" y="632.4" width="5" height="10.35" fill="#ff0000"/>
<rect x="333.5" y="632.4" width="5" height="11.1" fill="#ff0000"/>
<rect x="339.5" y="632.4" width="5" height="12.35" fill="#ff0000"/>
<rect x="345.5" y="632.4" width="5" height="12.35" fill="#ff0000"/>
<rect x="351.5" y="632.4" width="5" height="10.35" fill="#ff0000"/>
<rect x="357.5" y="632.4" width="5" height="8.2" fill="#ff0000"/>
<rect x="363.5" y="632.4" width="5" height="8.2" fill="#ff0000"/>
<rect x="369.5" y="632.4" width="5" height="7.35" fill="#ff0000"/>
<rect x="375.5" y="632.4" width="5" height="6.1" fill="#ff0000"/>
<rect x="381.5" y="632.4" width="5" height="6.1" fill="#ff0000"/>
<rect x="387.5" y="632.4" width="5" height="6.6" fill="#ff0000"/>
<rect x="393.5" y="632.4" width="5" height="7" fill="#ff0000"/>
<rect x="399.5" y="632.4" width="5" height="7" fill="#ff0000"/>
<rect x="405.5" y="632.4" width="5" height="7" fill="#ff0000"/>
<rect x="411.5" y="632.4" width="5" height="6.6" fill="#ff0000"/>
<rect x="417.5" y="632.4" width="5" height="5.35" fill="#ff0000"/>
<rect x="423.5" y="632.4" width="5" height="5.7" fill="#ff0000"/>
<rect x="429.5" y="632.4" width="5" height="4.5" fill="#ff0000"/>
<rect x="435.5" y="632.4" width="5" height="5.35" fill="#ff0000"/>
<rect x="441.5" y="632.4" width="5" height="5.7" fill="#ff0000"/>
<rect x="447.5" y="632.4" width="5" height="4.85" fill="#ff0000"/>
<rect x="453.5" y="632.4" width="5" height="2.35" fill="#ff0000"/>
<rect x="459.5" y="632" width="5" height="0.4" fill="#808080"/>
<rect x="465.5" y="632" width="5" height="0.4" fill="#808080"/>
<rect x="471.5" y="632.4" width="5" height="1.1" fill="#ff0000"/>
<rect x="477.5" y="632.4" width="5" height="1.1" fill="#ff0000"/>
<rect x="483.5" y="632.4" width="5" height="3.2" fill="#ff0000"/>
<rect x="489.5" y="632.4" width="5" height="4.2" fill="#ff0000"/>
<rect x="495.5" y="632.4" width="5" height="5.1" fill="#ff0000"/>
<rect x="501.5" y="632.4" width="5" height="5.1" fill="#ff0000"/>
<rect x="507.5" y="632.4" width="5" height="3.2" fill="#ff0000"/>
<rect x="513.5" y="632.4" width="5" height="1.35" fill="#ff0000"/>
<rect x="519.5" y="632.4" width="5" height="0.7" fill="#ff0000"/>
<rect x="525.5" y="632.4" width="5" height="2.35" fill="#ff0000"/>
<rect x="531.5" y="632.4" width="5" height="2.85" fill="#ff0000"/>
<rect x="537.5" y="632.4" width="5" height="1.35" fill="#ff0000"/>
<rect x="543.5" y="632.4" width="5" height="1" fill="#ff0000"/>
<rect x="549.5" y="632.4" width="5" height="0.7" fill="#ff0000"/>
<rect x="555.5" y="632.4" width="5" height="0.35" fill="#ff0000"/>
<rect x="561.5" y="632.4" width="5" height="0.1" fill="#ff0000"/>
<rect x="567.5" y="632.4" width="5" height="1.1" fill="#ff0000"/>
<rect x="573.5" y="632.4" width="5" height="2" fill="#ff0000"/>
<rect x="579.5" y="632.4" width="5" height="4.1" fill="#ff0000"/>
<rect x="585.5" y="632.4" width="5" height="3.2" fill="#ff0000"/>
<rect x="591.5" y="632.4" width="5" height="2" fill="#ff0000"/>
<rect x="597.5" y="632.4" width="5" height="3.2" fill="#ff0000"/>
<rect x="603.5" y="632.4" width="5" height="4.1" fill="#ff0000"/>
<rect x="609.5" y="632.4" width="5" height="3.2" fill="#ff0000"/>
<rect x="615.5" y="632.4" width="5" height="0.7" fill="#ff0000"/>
<rect x="621.5" y="630.6" width="5" height="1.8" fill="#808080"/>
<rect x="627.5" y="629.1" width="5" height="3.3" fill="#808080"/>
<rect x="633.5" y="626.9" width="5" height="5.5" fill="#808080"/>
<rect x="639.5" y="625.25" width="5" height="7.15" fill="#808080"/>
<rect x="645.5" y="626.6" width="5" height="5.8" fill="#808080"/>
<rect x="651.5" y="628.1" width="5" height="4.3" fill="#808080"/>
<rect x="657.5" y="627.75" width="5" height="4.65" fill="#808080"/>
<rect x="663.5" y="627" width="5" height="5.4" fill="#808080"/>
<rect x="669.5" y="627.9" width="5" height="4.5" fill="#808080"/>
<rect x="675.5" y="626.9" width="5" height="5.5" fill="#808080"/>
<rect x="681.5" y="626" width="5" height="6.4" fill="#808080"/>
<rect x="687.5" y="623.75" width="5" height="8.65" fill="#808080"/>
<rect x="693.5" y="624.5" width="5" height="7.9" fill="#808080"/>
<rect x="699.5" y="626.1" width="5" height="6.3" fill="#808080"/>
<rect x="705.5" y="627.4" width="5" height="5" fill="#808080"/>
<rect x="711.5" y="628.5" width="5" height="3.9" fill="#808080"/>
<rect x="717.5" y="627.5" width="5" height="4.9" fill="#808080"/>
<rect x="723.5" y="628.4" width="5" height="4" fill="#808080"/>
<rect x="729.5" y="629.4" width="5" height="3" fill="#808080"/>
<rect x="735.5" y="628.4" width="5" height="4" fill="#808080"/>
<rect x="741.5" y="624.75" width="5" height="7.65" fill="#808080"/>
<rect x="747.5" y="623.1" width="5" height="9.3" fill="#808080"/>
<rect x="753.5" y="623.1" width="5" height="9.3" fill="#808080"/>
<rect x="759.5" y="623.5" width="5" height="8.9" fill="#808080"/>
<rect x="765.5" y="625.25" width="5" height="7.15" fill="#808080"/>
<rect x="771.5" y="626.25" width="5" height="6.15" fill="#808080"/>
<rect x="777.5" y="626.25" width="5" height="6.15" fill="#808080"/>
<rect x="783.5" y="622.25" width="5" height="10.15" fill="#808080"/>
</g>
<line x1="821.5" x2="821.5" y1="0" y2="496" stroke="#d3d8e8" stroke-width="1"/>
<line x1="821.5" x2="821.5" y1="504" y2="580" stroke="#d3d8e8" stroke-width="1"/>
<line x1="821.5" x2="821.5" y1="588" y2="672" stroke="#d3d8e8" stroke-width="1"/>
<line x1="400" x2="420" y1="498.5" y2="498.5" stroke="#605b5b" stroke-width="1"/>
<line x1="400" x2="420" y1="500.5" y2="500.5" stroke="#605b5b" stroke-width="1"/>
<line x1="400" x2="420" y1="502.5" y2="502.5" stroke="#605b5b" stroke-width="1"/>
<line x1="400" x2="420" y1="582.5" y2="582.5" stroke="#605b5b" stroke-width="1"/>
<line x1="400" x2="420" y1="584.5" y2="584.5" stroke="#605b5b" stroke-width="1"/>
<line x1="400" x2="420" y1="586.5" y2="586.5" stroke="#605b5b" stroke-width="1"/>
<rect x="5" y="5" width="80" height="22" fill="#444" fill-opacity="0.85"/>
<rect x="5" y="5" width="3" height="22" fill="#2f7f6c"/>
<text x="16.4" y="20.6" font-size="11" font-weight="bold" fill="#fff">EUR/USD</text>
<rect x="5" y="32" width="91" height="22" fill="#444" fill-opacity="0.85"/>
<rect x="5" y="32" width="3" height="22" fill="#0a1eff"/>
<text x="16.4" y="47.6" font-size="11" font-weight="bold" fill="#fff">SMA (200,0)</text>
<rect x="5" y="59" width="85" height="22" fill="#444" fill-opacity="0.85"/>
<rect x="5" y="59" width="3" height="22" fill="#e8600c"/>
<text x="16.4" y="74.6" font-size="11" font-weight="bold" fill="#fff">SMA (50,0)</text>
<rect x="5" y="509" width="111" height="22" fill="#444" fill-opacity="0.85"/>
<rect x="5" y="509" width="3" height="22" fill="#000"/>
<text x="16.4" y="524.6" font-size="11" font-weight="bold" fill="#fff">RSI (14,70,30,1)</text>
<rect x="5" y="593" width="110" height="22" fill="#444" fill-opacity="0.85"/>
<rect x="5" y="593" width="3" height="22" fill="#0a1eff"/>
<text x="16.4" y="608.6" font-size="11" font-weight="bold" fill="#fff">MACD (12,26,9)</text>
<text x="828.8" y="17.15" font-size="11" fill="#666666">1.1300</text>
<text x="828.8" y="43.97" font-size="11" fill="#666666">1.1250</text>
<text x="828.8" y="70.8" font-size="11" fill="#666666">1.1200</text>
<text x="828.8" y="97.62" font-size="11" fill="#666666">1.1150</text>
<text x="828.8" y="124.44" font-size="11" fill="#666666">1.1100</text>
<text x="828.8" y="151.26" font-size="11" fill="#666666">1.1050</text>
<text x="828.8" y="178.09" font-size="11" fill="#666666">1.1000</text>
<text x="828.8" y="204.91" font-size="11" fill="#666666">1.0950</text>
<text x="828.8" y="231.73" font-size="11" fill="#666666">1.0900</text>
<text x="828.8" y="258.56" font-size="11" fill="#666666">1.0850</text>
<text x="828.8" y="285.38" font-size="11" fill="#666666">1.0800</text>
<text x="828.8" y="312.2" font-size="11" fill="#666666">1.0750</text>
<text x="828.8" y="339.03" font-size="11" fill="#666666">1.0700</text>
<text x="828.8" y="365.85" font-size="11" fill="#666666">1.0650</text>
<text x="828.8" y="392.67" font-size="11" fill="#666666">1.0600</text>
<text x="828.8" y="419.49" font-size="11" fill="#666666">1.0550</text>
<text x="828.8" y="446.32" font-size="11" fill="#666666">1.0500</text>
<text x="828.8" y="473.14" font-size="11" fill="#666666">1.0450</text>
<text x="828.8" y="546.4" font-size="11" fill="#666666">50.0000</text>
<text x="828.8" y="582.1" font-size="11" fill="#666666">0.0000</text>
<text x="828.8" y="614.5" font-size="11" fill="#666666">0.0050</text>
<text x="828.8" y="636.3" font-size="11" fill="#666666">0.0000</text>
<text x="828.8" y="658.1" font-size="11" fill="#666666">-0.0050</text>
<path d="M824.3 238.5L831.8 231.1H879.3V245.9H831.8Z" fill="#2c4a72"/>
<text x="829.6" y="243.6" font-size="11" font-weight="bold" fill="#fff">1.087950</text>
<text x="67.5" y="687.5" font-size="11" fill="#666666">Jun</text>
<text x="199.5" y="687.5" font-size="11" fill="#666666">Jul</text>
<text x="325.5" y="687.5" font-size="11" fill="#666666">Aug</text>
<text x="463.5" y="687.5" font-size="11" fill="#666666">Sep</text>
<text x="589.5" y="687.5" font-size="11" fill="#666666">Oct</text>
<text x="721.5" y="687.5" font-size="11" fill="#666666">Nov</text>
</svg></body></html>
